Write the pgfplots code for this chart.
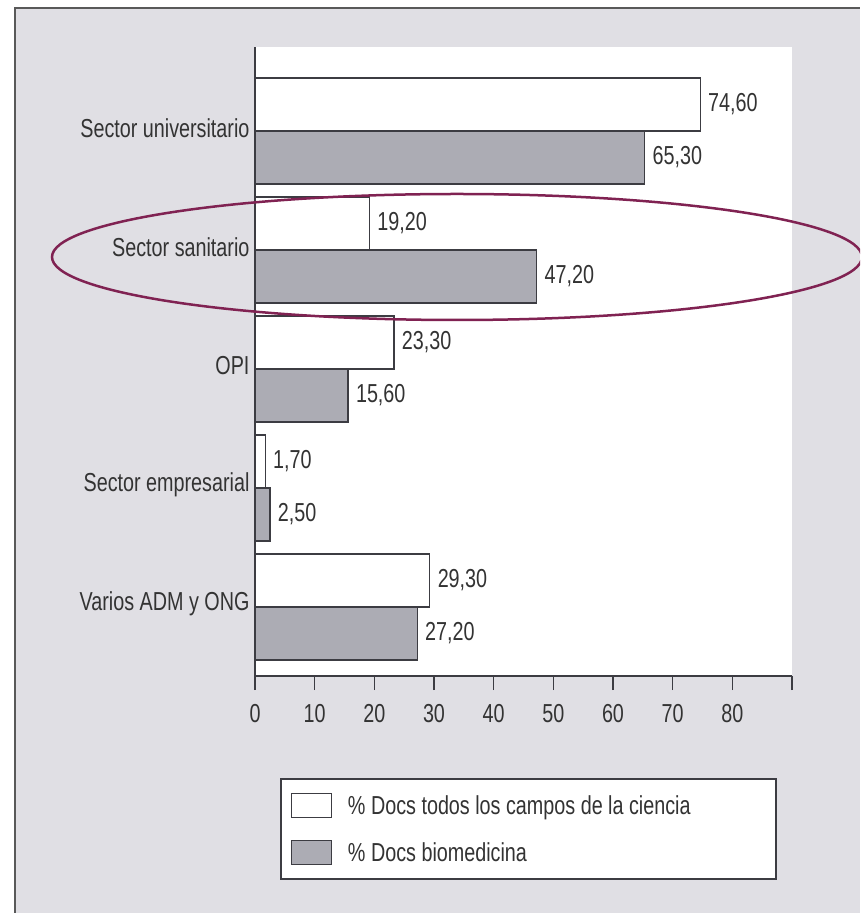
\documentclass[border=0pt]{standalone}
\usepackage{fontspec}
\setmainfont{Liberation Sans}[FakeStretch=0.76]
\usepackage{pgfplots}
\pgfplotsset{compat=1.18}
\definecolor{panel}{RGB}{224,223,228}
\definecolor{bargray}{RGB}{172,172,180}
\definecolor{edge}{RGB}{60,60,66}
\definecolor{ringred}{RGB}{128,34,82}
\newcommand\cf{\fontsize{26}{31}\selectfont}
\begin{document}
\begin{tikzpicture}[x=1pt,y=1pt]
\useasboundingbox (0,0) rectangle (860,913);
\clip (0,0) rectangle (860,913);
\fill[white] (0,0) rectangle (860,913);
\fill[panel] (15,0) rectangle (860,905);
\draw[black!65, line width=2.5pt] (15,0) -- (15,905) -- (860,905);
\begin{axis}[
 at={(255pt,237pt)}, anchor=south west,
 scale only axis, width=537pt, height=629pt,
 xmin=0, xmax=90, ymin=-0.58, ymax=4.706,
 axis background/.style={fill=white},
 axis lines*=left,
 axis line style={-, draw=edge, line width=1.5pt},
 xtick={0,10,...,90},
 xticklabels={0,10,20,30,40,50,60,70,80,{}},
 ytick={0,1,2,3,4},
 yticklabels={Varios ADM y ONG, Sector empresarial, OPI, Sector sanitario, Sector universitario},
 tick align=outside,
 major tick length=14pt,
 x tick style={draw=edge, line width=1.5pt},
 y tick style={draw=none},
 tick label style={font=\cf, text=black!80},
 yticklabel style={xshift=12pt, yshift=3pt},
 xticklabel style={yshift=-11pt},
 /pgf/number format/assume math mode=true,
 xbar, bar width=0.445,
 point meta=x,
 nodes near coords={\pgfmathprintnumber[fixed,fixed zerofill,precision=2,use comma,assume math mode=true]{\pgfplotspointmeta}},
 every node near coord/.append style={font=\cf, text=black!80, anchor=west, xshift=4pt},
 legend style={at={(axis description cs:0.0466,-0.1622)}, anchor=north west, draw=edge, line width=1.5pt, fill=white, font=\cf, text=black!80, inner xsep=10pt, inner ysep=14pt, row sep=22pt},
 legend cell align=left,
 legend image code/.code={\draw[#1,line width=1.2pt] (0pt,-12pt) rectangle (40pt,12pt);},
]
\addplot[fill=white, draw=edge, line width=1.2pt, bar shift=0.2225] coordinates {(74.6,4) (19.2,3) (23.3,2) (1.7,1) (29.3,0)};
\addlegendentry{\hspace*{14pt}\makebox[416pt][l]{\% Docs todos los campos de la ciencia}}
\addplot[fill=bargray, draw=edge, line width=1.2pt, bar shift=-0.2225] coordinates {(65.3,4) (47.2,3) (15.6,2) (2.5,1) (27.2,0)};
\addlegendentry{\hspace*{14pt}\makebox[416pt][l]{\% Docs biomedicina}}
\end{axis}
\draw[ringred, line width=2.5pt] (457,656) ellipse [x radius=405pt, y radius=63pt];
\end{tikzpicture}
\end{document}
